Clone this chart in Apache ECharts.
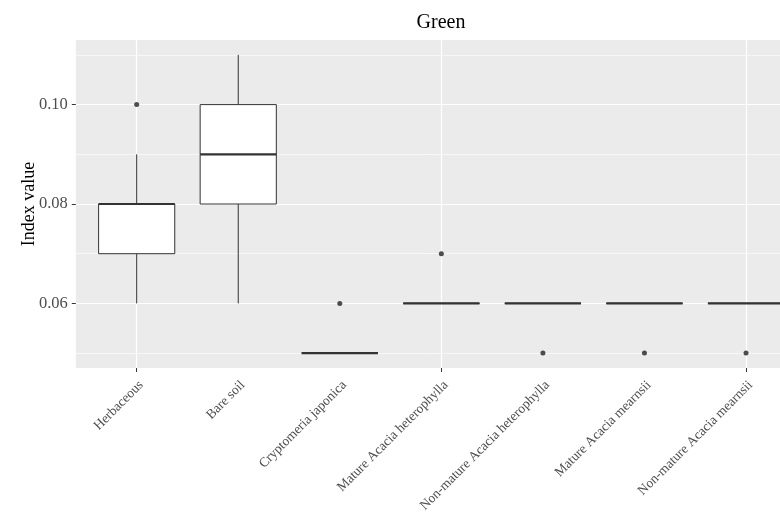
<!DOCTYPE html>
<html><head><meta charset="utf-8">
<script src="https://cdn.jsdelivr.net/npm/echarts@6/dist/echarts.min.js"></script>
<style>html,body{margin:0;padding:0;background:#fff}#c{width:780px;height:517px}</style>
</head><body><div id="c"></div>
<script>
const categories = ['Herbaceous', 'Bare soil', 'Cryptomeria japonica', 'Mature Acacia heterophylla', 'Non-mature Acacia heterophylla', 'Mature Acacia mearnsii', 'Non-mature Acacia mearnsii'];
const whiskerLow  = [0.06, 0.06, 0.05, 0.06, 0.06, 0.06, 0.06];
const q1          = [0.07, 0.08, 0.05, 0.06, 0.06, 0.06, 0.06];
const medians     = [0.08, 0.09, 0.05, 0.06, 0.06, 0.06, 0.06];
const q3          = [0.08, 0.10, 0.05, 0.06, 0.06, 0.06, 0.06];
const whiskerHigh = [0.09, 0.11, 0.05, 0.06, 0.06, 0.06, 0.06];
const outlierCategory = ['Herbaceous', 'Cryptomeria japonica', 'Mature Acacia heterophylla', 'Non-mature Acacia heterophylla', 'Mature Acacia mearnsii', 'Non-mature Acacia mearnsii'];
const outlierValue = [0.10, 0.06, 0.07, 0.05, 0.05, 0.05];
const yTicks = [0.06, 0.08, 0.10];
const yMin = 0.047, yMax = 0.113;

const FONT = 'Liberation Serif';
const boxData = categories.map((c, i) => [i, whiskerLow[i], q1[i], medians[i], q3[i], whiskerHigh[i]]);
const outData = outlierCategory.map((c, i) => [c, outlierValue[i]]);

function renderBox(params, api) {
  const i = api.value(0);
  const lo = api.coord([i, api.value(1)]);
  const b1 = api.coord([i, api.value(2)]);
  const md = api.coord([i, api.value(3)]);
  const b3 = api.coord([i, api.value(4)]);
  const hi = api.coord([i, api.value(5)]);
  const bw = api.size([1, 0])[0] * 0.75;
  const x = lo[0];
  const stroke = '#333333';
  return {type: 'group', children: [
    {type: 'line', shape: {x1: x, y1: hi[1], x2: x, y2: b3[1]}, style: {stroke, lineWidth: 1}},
    {type: 'line', shape: {x1: x, y1: b1[1], x2: x, y2: lo[1]}, style: {stroke, lineWidth: 1}},
    {type: 'rect', shape: {x: x - bw / 2, y: b3[1], width: bw, height: b1[1] - b3[1]}, style: {fill: '#ffffff', stroke, lineWidth: 1}},
    {type: 'line', shape: {x1: x - bw / 2, y1: md[1], x2: x + bw / 2, y2: md[1]}, style: {stroke, lineWidth: 2.2}}
  ]};
}

const chart = echarts.init(document.getElementById('c'), null, {renderer: 'canvas'});
chart.setOption({
  animation: false,
  backgroundColor: '#ffffff',
  title: {
    text: 'Green', left: 441, top: 13, padding: 0, textAlign: 'center',
    textStyle: {fontFamily: FONT, fontSize: 20, fontWeight: 'normal', color: '#000'}
  },
  grid: [
    {left: 75.8, top: 40, width: 731.2, height: 328, show: true, backgroundColor: '#EBEBEB', borderWidth: 0, containLabel: false, outerBoundsMode: 'none'},
    {left: 85.9, top: 40, width: 710.9, height: 328, show: false, containLabel: false, outerBoundsMode: 'none'},
    {left: 90.5, top: 40, width: 710.9, height: 328, show: false, containLabel: false, outerBoundsMode: 'none'}
  ],
  xAxis: [
    {gridIndex: 0, type: 'value', min: 0, max: 1, show: false},
    {gridIndex: 1, type: 'category', data: categories, boundaryGap: true,
      axisLine: {show: false},
      axisTick: {show: true, alignWithLabel: true, length: 4, lineStyle: {color: '#333', width: 1}},
      axisLabel: {show: false},
      splitLine: {show: true, alignWithLabel: true, lineStyle: {color: '#ffffff', width: 1.2}}
    },
    {gridIndex: 2, type: 'category', data: categories, boundaryGap: true,
      axisLine: {show: false}, axisTick: {show: false}, splitLine: {show: false},
      axisLabel: {show: true, interval: 0, rotate: 45, margin: 15, fontFamily: FONT, fontSize: 13.5, color: '#4D4D4D', hideOverlap: false}
    }
  ],
  yAxis: [
    {gridIndex: 0, type: 'value', min: yMin, max: yMax, minInterval: 0.02, maxInterval: 0.02,
      name: 'Index value', nameLocation: 'middle', nameGap: 38, nameRotate: 90, nameMoveOverlap: false,
      nameTextStyle: {fontFamily: FONT, fontSize: 18, color: '#000'},
      axisLine: {show: false},
      axisTick: {show: true, length: 4, customValues: yTicks, lineStyle: {color: '#333', width: 1}},
      axisLabel: {show: true, margin: 8, customValues: yTicks, formatter: v => v.toFixed(2), fontFamily: FONT, fontSize: 16.5, color: '#4D4D4D'},
      splitLine: {show: true, lineStyle: {color: '#ffffff', width: 1.2}},
      minorTick: {show: false, splitNumber: 2},
      minorSplitLine: {show: true, lineStyle: {color: '#ffffff', width: 0.6}}
    },
    {gridIndex: 1, type: 'value', min: yMin, max: yMax, show: false},
    {gridIndex: 2, type: 'value', min: 0, max: 1, show: false}
  ],
  series: [
    {type: 'custom', xAxisIndex: 1, yAxisIndex: 1, data: boxData, encode: {x: 0, y: [1, 2, 3, 4, 5]}, renderItem: renderBox, z: 3},
    {type: 'scatter', xAxisIndex: 1, yAxisIndex: 1, data: outData, symbol: 'circle', symbolSize: 5, itemStyle: {color: '#222'}, z: 4}
  ]
});
</script></body></html>
